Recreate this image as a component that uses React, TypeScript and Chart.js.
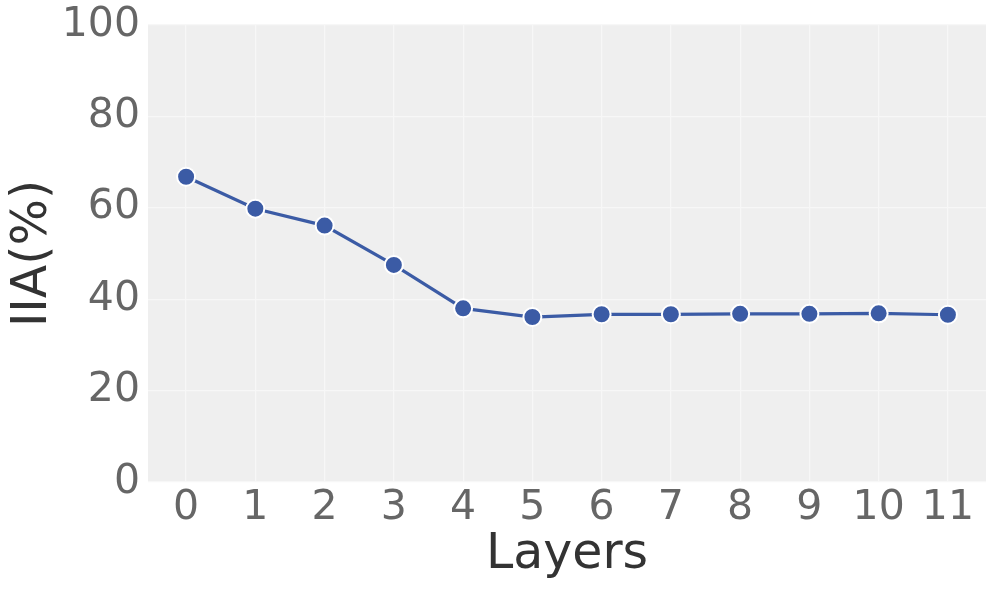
import React, { useEffect, useRef } from "react";
import { Chart, registerables } from "chart.js";
Chart.register(...registerables);

const layers = [0, 1, 2, 3, 4, 5, 6, 7, 8, 9, 10, 11];
const iiaValues = [66.8, 59.8, 56.1, 47.5, 38.0, 36.1, 36.7, 36.7, 36.8, 36.8, 36.9, 36.6];
const yTicks = [0, 20, 40, 60, 80, 100];

const bgPlugin = {
  id: "plotBg",
  beforeDraw(chart: any) {
    const { ctx, chartArea } = chart;
    ctx.save();
    ctx.fillStyle = "#efefef";
    ctx.fillRect(chartArea.left, chartArea.top, chartArea.right - chartArea.left, chartArea.bottom - chartArea.top);
    ctx.restore();
  },
};

export default function App() {
  const ref = useRef<HTMLCanvasElement>(null);
  useEffect(() => {
    const font = "'DejaVu Sans', sans-serif";
    const chart = new Chart(ref.current!, {
      type: "line",
      data: {
        datasets: [
          {
            data: layers.map((l, i) => ({ x: l, y: iiaValues[i] })),
            borderColor: "#3b5ba5",
            backgroundColor: "#3b5ba5",
            borderWidth: 3.2,
            pointRadius: 9,
            pointBorderColor: "#ffffff",
            pointBorderWidth: 2,
            pointBackgroundColor: "#3b5ba5",
            tension: 0,
          },
        ],
      },
      options: {
        animation: false,
        responsive: false,
        layout: { padding: { top: 25, right: 10, left: 0, bottom: 0 } },
        plugins: { legend: { display: false }, tooltip: { enabled: false } },
        scales: {
          x: {
            type: "linear",
            min: -0.55,
            max: 11.55,
            afterBuildTicks: (axis: any) => {
              axis.ticks = layers.map((v) => ({ value: v }));
            },
            afterFit: (axis: any) => {
              axis.height = 109;
              axis.paddingLeft = 0;
              axis.paddingRight = 0;
            },
            grid: { color: "#f7f7f7", lineWidth: 1.2, drawTicks: false },
            border: { display: false },
            ticks: {
              color: "#666666",
              font: { family: font, size: 41 },
              padding: 2,
              maxRotation: 0,
              autoSkip: false,
              callback: (v: any) => String(v),
            },
            title: {
              display: true,
              text: "Layers",
              color: "#333333",
              font: { family: font, size: 49 },
              padding: { top: 0, bottom: 6 },
            },
          },
          y: {
            min: 0,
            max: 100,
            afterBuildTicks: (axis: any) => {
              axis.ticks = yTicks.map((v) => ({ value: v }));
            },
            afterFit: (axis: any) => {
              axis.width = 148;
              axis.paddingTop = 0;
              axis.paddingBottom = 0;
            },
            grid: { color: "#f7f7f7", lineWidth: 1.2, drawTicks: false },
            border: { display: false },
            ticks: {
              color: "#666666",
              font: { family: font, size: 41 },
              padding: 8,
            },
            title: {
              display: true,
              text: "IIA(%)",
              color: "#333333",
              font: { family: font, size: 49 },
              padding: { top: 4, bottom: 0 },
            },
          },
        },
      },
      plugins: [bgPlugin],
    } as any);
    return () => chart.destroy();
  }, []);
  return (
    <div style={{ position: "absolute", left: 0, top: 0, width: 997, height: 591, background: "#fff" }}>
      <canvas ref={ref} width={997} height={591} style={{ width: 997, height: 591 }} />
    </div>
  );
}
